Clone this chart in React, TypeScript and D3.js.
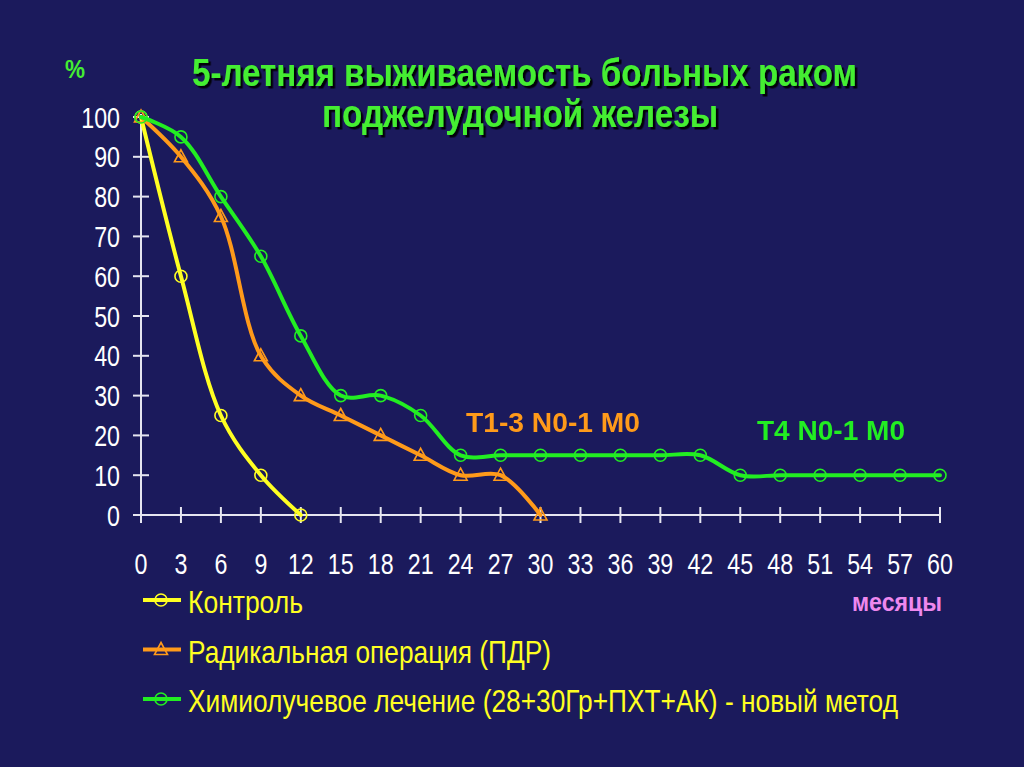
import React from "react";
import * as d3 from "d3";

const months = [0, 3, 6, 9, 12, 15, 18, 21, 24, 27, 30, 33, 36, 39, 42, 45, 48, 51, 54, 57, 60];
const yTicks = [0, 10, 20, 30, 40, 50, 60, 70, 80, 90, 100];
const controlValues = [100, 60, 25, 10, 0];
const radicalValues = [100, 90, 75, 40, 30, 25, 20, 15, 10, 10, 0];
const chemoValues = [100, 95, 80, 65, 45, 30, 30, 25, 15, 15, 15, 15, 15, 15, 15, 10, 10, 10, 10, 10, 10];
const legendLabels = [
  "Контроль",
  "Радикальная операция (ПДР)",
  "Химиолучевое лечение (28+30Гр+ПХТ+АК) - новый метод",
];
const legendWidths = [115, 363, 710];
const titleLines = ["5-летняя выживаемость больных раком", "поджелудочной железы"];
const titleWidths = [665, 396];

const BG = "#1b1a5c";
const YELLOW = "#ffff22";
const ORANGE = "#ff9a1a";
const GREEN = "#22ee22";
const AXIS = "#e6e6f0";
const FONT = "'Liberation Sans', Arial, sans-serif";

function NText(props: {
  x: number; y: number; sx?: number; size: number; fill: string; anchor?: string; bold?: boolean;
  width?: number; children: React.ReactNode;
}) {
  const { x, y, sx = 0.8, size, fill, anchor = "start", bold = false, width, children } = props;
  const extra = width ? { textLength: width / sx, lengthAdjust: "spacingAndGlyphs" } : {};
  return (
    <text
      transform={`translate(${x},${y}) scale(${sx},1)`}
      textAnchor={anchor}
      fontFamily={FONT}
      fontWeight={bold ? "bold" : "normal"}
      fontSize={size}
      fill={fill}
      {...extra}
    >
      {children}
    </text>
  );
}

export default function App() {
  const W = 1024, H = 767;
  const x = d3.scaleLinear().domain([0, 60]).range([141, 940]);
  const y = d3.scaleLinear().domain([0, 100]).range([515, 117]);
  const line = d3.line<number>().curve(d3.curveCatmullRom.alpha(0.5));

  const pts = (vals: number[]) => vals.map((v, i) => [x(months[i]), y(v)] as [number, number]);
  const series = [
    { vals: controlValues, color: YELLOW, mark: "circle" },
    { vals: radicalValues, color: ORANGE, mark: "tri" },
    { vals: chemoValues, color: GREEN, mark: "circle" },
  ];

  const marker = (mk: string, cx: number, cy: number, color: string, key: string) =>
    mk === "circle" ? (
      <circle key={key} cx={cx} cy={cy} r={6} fill="none" stroke={color} strokeWidth={1.6} />
    ) : (
      <path key={key} d={`M${cx},${cy - 7}L${cx + 6.5},${cy + 5}L${cx - 6.5},${cy + 5}Z`} fill="none" stroke={color} strokeWidth={1.6} />
    );

  return (
    <svg width={W} height={H} style={{ display: "block", position: "absolute", left: 0, top: 0 }}>
      <defs>
        <filter id="sh" x="-5%" y="-20%" width="110%" height="140%">
          <feDropShadow dx="2.5" dy="2.5" stdDeviation="0.6" floodColor="#000" floodOpacity="0.9" />
        </filter>
      </defs>
      <rect width={W} height={H} fill={BG} />
      {/* title */}
      <g filter="url(#sh)">
        <NText x={192} y={86} size={38} bold fill="#44ee33" width={titleWidths[0]}>{titleLines[0]}</NText>
        <NText x={322} y={127} size={38} bold fill="#44ee33" width={titleWidths[1]}>{titleLines[1]}</NText>
      </g>
      <NText x={65} y={78} size={25} sx={0.9} bold fill="#44ee33">%</NText>

      {/* axes */}
      <line x1={x(0)} x2={x(0)} y1={y(100) - 3} y2={y(0)} stroke={AXIS} strokeWidth={2} />
      <line x1={x(0) - 8} x2={x(60)} y1={y(0)} y2={y(0)} stroke={AXIS} strokeWidth={2} />
      {yTicks.map((t) => (
        <g key={"y" + t}>
          <line x1={x(0) - 8} x2={x(0) + 8} y1={y(t)} y2={y(t)} stroke={AXIS} strokeWidth={2} />
          <NText x={120} y={y(t) + 10.5} size={29} anchor="end" fill="#ffffff">{t}</NText>
        </g>
      ))}
      {months.map((m) => (
        <g key={"x" + m}>
          <line x1={x(m)} x2={x(m)} y1={y(0) - 8} y2={y(0) + 8} stroke={AXIS} strokeWidth={2} />
          <NText x={x(m)} y={574} size={29} anchor="middle" fill="#ffffff">{m}</NText>
        </g>
      ))}

      {/* series */}
      {series.map((s, si) => (
        <g key={"s" + si}>
          <path d={line(pts(s.vals)) || ""} fill="none" stroke={s.color} strokeWidth={4} strokeLinejoin="round" strokeLinecap="round" />
          {pts(s.vals).map(([cx, cy], i) => marker(s.mark, cx, cy, s.color, "m" + si + "-" + i))}
        </g>
      ))}

      {/* annotations */}
      <NText x={466} y={432} size={28} sx={0.95} bold fill={ORANGE} width={174}>T1-3 N0-1 M0</NText>
      <NText x={757} y={440} size={28} sx={0.95} bold fill={GREEN} width={148}>T4 N0-1 M0</NText>
      <NText x={852} y={611} size={25} sx={0.9} bold fill="#ee88ee" width={90}>месяцы</NText>

      {/* legend */}
      {legendLabels.map((lab, i) => {
        const ly = 600 + i * 49.5;
        const s = series[i];
        return (
          <g key={"l" + i}>
            <line x1={143} x2={181} y1={ly} y2={ly} stroke={s.color} strokeWidth={4} />
            {marker(s.mark, 161, ly, s.color, "lm" + i)}
            <NText x={188} y={ly + 13} size={32} fill={YELLOW} width={legendWidths[i]}>{lab}</NText>
          </g>
        );
      })}
    </svg>
  );
}
